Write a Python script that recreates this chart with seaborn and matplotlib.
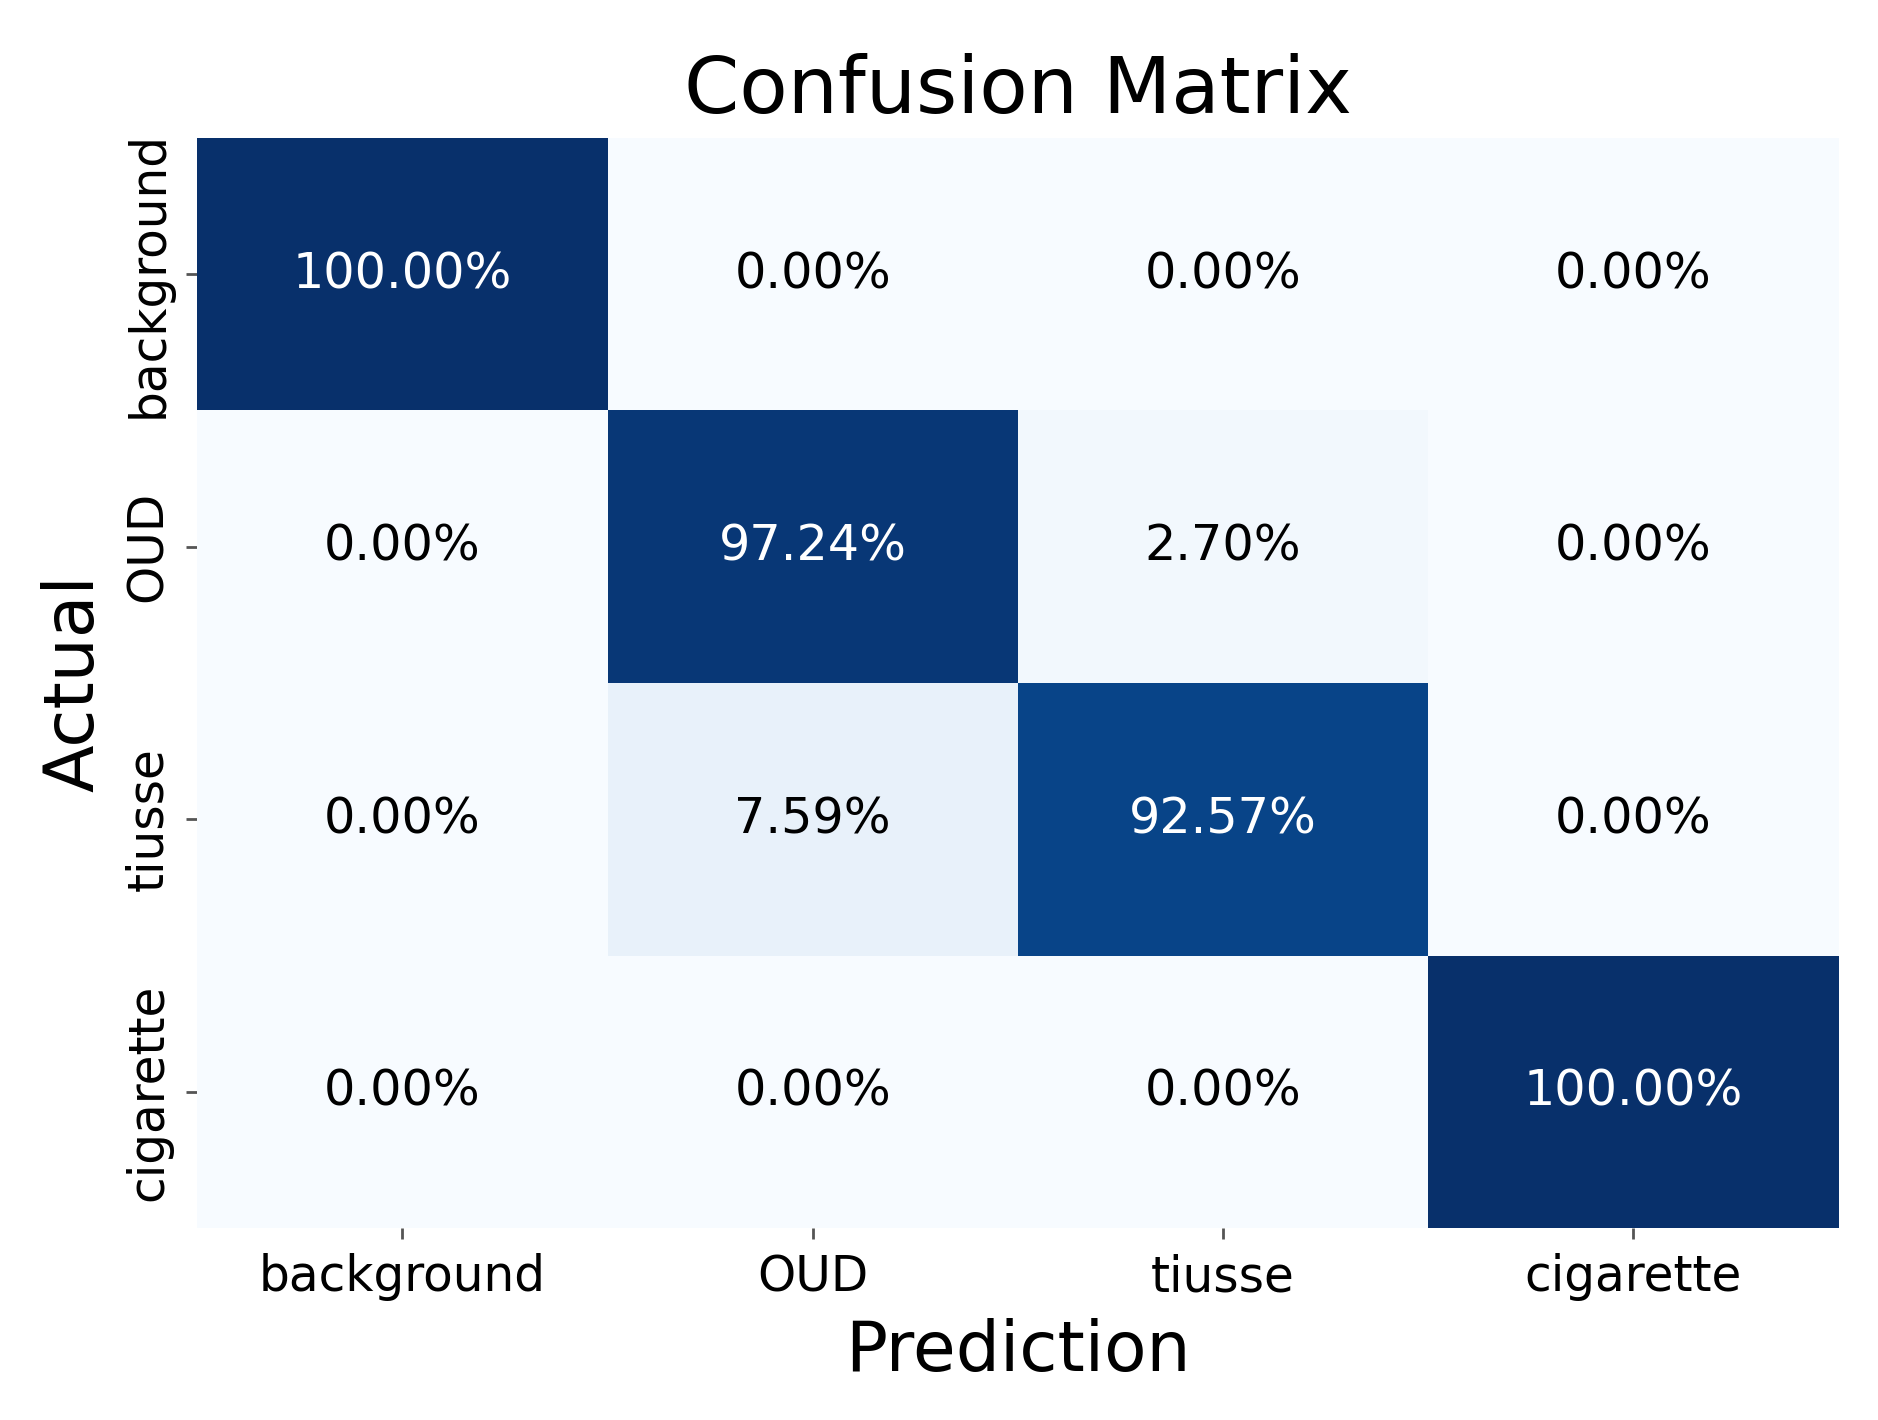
import matplotlib
matplotlib.use("Agg")
import matplotlib.pyplot as plt
import seaborn as sns
import numpy as np

sns.set_theme(style="white")
plt.rcParams["text.color"] = "black"
plt.rcParams["axes.labelcolor"] = "black"
plt.rcParams["xtick.color"] = "black"
plt.rcParams["ytick.color"] = "black"

classes = ["background", "OUD", "tiusse", "cigarette"]
row_background = [100.00, 0.00, 0.00, 0.00]
row_oud = [0.00, 97.24, 2.70, 0.00]
row_tiusse = [0.00, 7.59, 92.57, 0.00]
row_cigarette = [0.00, 0.00, 0.00, 100.00]

cm = np.array([row_background, row_oud, row_tiusse, row_cigarette])
labels = np.array([["{:.2f}%".format(v) for v in row] for row in cm])

fig = plt.figure(figsize=(18.78, 14.2), dpi=100)
ax = fig.add_axes([0.105, 0.135, 0.874, 0.768])
sns.heatmap(cm, annot=labels, fmt="", cmap="Blues", vmin=0, vmax=100,
            cbar=False, xticklabels=classes, yticklabels=classes, ax=ax,
            annot_kws={"fontsize": 35.5})

# light cells get plain black text
for t in ax.texts:
    if t.get_color() != "w":
        t.set_color("black")

ax.set_title("Confusion Matrix", fontsize=57, pad=18, color="black")
ax.set_xlabel("Prediction", fontsize=50, labelpad=12)
ax.set_ylabel("Actual", fontsize=50, labelpad=12)
ax.tick_params(axis="both", labelsize=35, length=8, width=2, color="#555555",
               labelcolor="black", pad=10, bottom=True, left=True)
plt.setp(ax.get_yticklabels(), rotation=90, va="center")

plt.savefig("out.png", dpi=100)
plt.close()
